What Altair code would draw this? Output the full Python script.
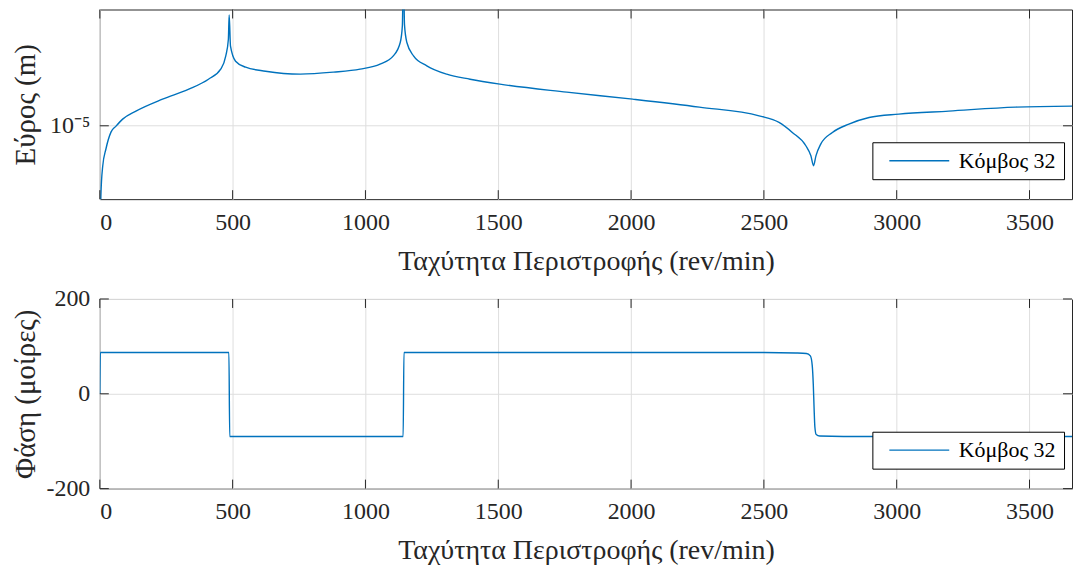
import altair as alt
import pandas as pd

series_name = "Κόμβος 32"
x_title = "Ταχύτητα Περιστροφής (rev/min)"
amp_title = "Εύρος (m)"
phase_title = "Φάση (μοίρες)"

x_ticks = [0, 500, 1000, 1500, 2000, 2500, 3000, 3500]
amp_ticks = [1e-5]
phase_ticks = [-200, 0, 200]

speed_amp = [0, 4, 11, 23, 42, 61, 86, 136, 236, 335,
             409, 455, 474, 484, 487, 492, 511, 549, 624, 755,
             880, 980, 1055, 1105, 1131, 1139, 1143, 1147, 1156, 1181,
             1231, 1306, 1394, 1506, 1758, 2006, 2257, 2482, 2557, 2607,
             2658, 2677, 2687, 2696, 2714, 2758, 2820, 2896, 3008, 3196,
             3448, 3660]
amplitude = [3.0e-6, 5.15e-6, 6.84e-6, 8.03e-6, 9.42e-6, 9.97e-6, 1.065e-5, 1.149e-5, 1.286e-5, 1.414e-5,
             1.553e-5, 1.708e-5, 1.931e-5, 2.266e-5, 2.85e-5, 2.121e-5, 1.841e-5, 1.740e-5, 1.675e-5, 1.629e-5,
             1.660e-5, 1.708e-5, 1.790e-5, 1.936e-5, 2.196e-5, 2.57e-5, 4.5e-5, 2.6e-5, 2.196e-5, 1.936e-5,
             1.762e-5, 1.629e-5, 1.553e-5, 1.482e-5, 1.374e-5, 1.286e-5, 1.193e-5, 1.099e-5, 1.032e-5, 9.39e-6,
             8.28e-6, 7.53e-6, 6.86e-6, 7.53e-6, 8.41e-6, 9.39e-6, 1.016e-5, 1.082e-5, 1.117e-5, 1.149e-5,
             1.193e-5, 1.204e-5]

speed_phase = [0, 2, 486, 489, 1142, 1145, 2500, 2620, 2660, 2675,
               2682, 2686, 2689, 2692, 2697, 2710, 2800, 3660]
phase = [0, 87, 87, -90, -90, 87, 87, 86, 85, 80,
         60, 20, -30, -70, -86, -89, -90, -90]

FONT = "Liberation Serif"
TXT = "#262626"
BLUE = "#0072BD"
W, H = 974, 190
TL = 9
TICK_FS = 24
TITLE_FS = 28

amp_df = pd.DataFrame({"speed": speed_amp, "amp": amplitude, "series": series_name})
ph_df = pd.DataFrame({"speed": speed_phase, "phase": phase, "series": series_name})
xt_df = pd.DataFrame({"t": x_ticks})

x_scale = alt.Scale(domain=[0, 3660], nice=False, zero=False)
amp_scale = alt.Scale(type="log", domain=[5e-6, 3e-5], nice=False)
ph_scale = alt.Scale(domain=[-200, 200], nice=False)
col_scale = alt.Scale(domain=[series_name], range=[BLUE])


def x_axis():
    return alt.Axis(values=x_ticks, title=x_title, ticks=False, domain=False, grid=True,
                    labelPadding=11, titlePadding=13, format="d")


def amp_axis():
    return alt.Axis(values=amp_ticks, labelExpr="'10⁻⁵'", title=amp_title, ticks=False,
                    domain=False, grid=True, labelPadding=10, titleX=-59,
                    titleBaseline="bottom", titleFontSize=29)


def ph_axis():
    return alt.Axis(values=phase_ticks, title=phase_title, ticks=False, domain=False,
                    grid=True, labelPadding=10, titleX=-59, titleBaseline="bottom",
                    titleFontSize=29,
                    labelExpr="datum.value < 0 ? '-' + abs(datum.value) : '' + datum.value")


def legend():
    return alt.Legend(title=None, orient="none", legendX=774, legendY=133,
                      strokeColor="black", fillColor="white", padding=7.5, cornerRadius=0,
                      symbolType="M-0.15,0H5.85", symbolSize=400, symbolStrokeWidth=1.3,
                      symbolStrokeColor=BLUE, labelFont=FONT, labelFontSize=22,
                      labelColor="black", labelOffset=57)


def tick_layers(yscale, yaxis, yvals):
    yt_df = pd.DataFrame({"t": yvals})
    rule = dict(color=TXT, strokeWidth=1)
    xb = alt.Chart(xt_df).mark_rule(**rule).encode(
        x=alt.X("t:Q", scale=x_scale, axis=x_axis()), y=alt.value(H), y2=alt.value(H - TL))
    xt = alt.Chart(xt_df).mark_rule(**rule).encode(
        x=alt.X("t:Q", scale=x_scale, axis=x_axis()), y=alt.value(0), y2=alt.value(TL))
    yl = alt.Chart(yt_df).mark_rule(**rule).encode(
        y=alt.Y("t:Q", scale=yscale, axis=yaxis()), x=alt.value(0), x2=alt.value(TL))
    yr = alt.Chart(yt_df).mark_rule(**rule).encode(
        y=alt.Y("t:Q", scale=yscale, axis=yaxis()), x=alt.value(W), x2=alt.value(W - TL))
    return [xb, xt, yl, yr]


amp_line = alt.Chart(amp_df).mark_line(clip=True, strokeWidth=1.4, interpolate="monotone").encode(
    x=alt.X("speed:Q", scale=x_scale, axis=x_axis()),
    y=alt.Y("amp:Q", scale=amp_scale, axis=amp_axis()),
    color=alt.Color("series:N", scale=col_scale, legend=legend()),
)

ph_line = alt.Chart(ph_df).mark_line(clip=True, strokeWidth=1.4, interpolate="monotone").encode(
    x=alt.X("speed:Q", scale=x_scale, axis=x_axis()),
    y=alt.Y("phase:Q", scale=ph_scale, axis=ph_axis()),
    color=alt.Color("series:N", scale=col_scale, legend=legend()),
)

top = alt.layer(amp_line, *tick_layers(amp_scale, amp_axis, amp_ticks)).properties(width=W, height=H)
bottom = alt.layer(ph_line, *tick_layers(ph_scale, ph_axis, phase_ticks)).properties(width=W, height=H)

chart = alt.vconcat(top, bottom, spacing=10).resolve_scale(color="independent").properties(
    padding={"left": 11, "top": 8, "right": 0, "bottom": 0},
    background="white",
).configure_view(stroke=TXT, strokeWidth=1).configure_axis(
    labelFont=FONT, titleFont=FONT, labelColor=TXT, titleColor=TXT,
    labelFontSize=TICK_FS, titleFontSize=TITLE_FS, titleFontWeight="normal",
    gridColor="#dedede", gridWidth=1,
)

chart.save("out.html", embed_options={"renderer": "svg", "actions": False})
